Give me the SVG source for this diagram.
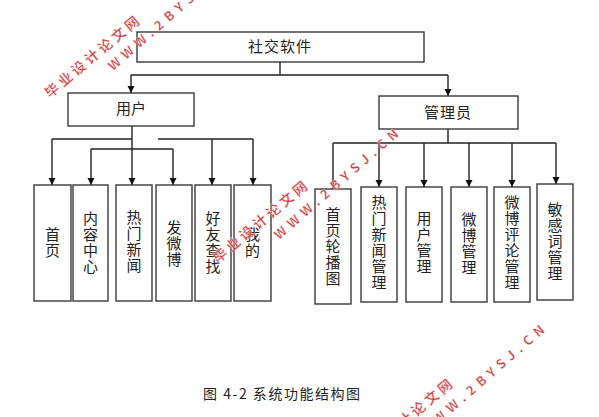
<svg xmlns="http://www.w3.org/2000/svg" width="599" height="417" viewBox="0 0 599 417">
<style>
.box{fill:#fff;stroke:#3a3a3a;stroke-width:1.4}
.lbl{font-family:"Noto Sans CJK SC","Liberation Sans",sans-serif;font-size:15px;fill:#222;text-anchor:middle}
.v{writing-mode:vertical-rl;letter-spacing:1px}
.con{fill:none;stroke:#222;stroke-width:1.4}
.wm{font-family:"Noto Sans CJK SC","Liberation Sans",sans-serif;font-weight:bold;fill:#d23c3c;text-anchor:middle;stroke:#fff;stroke-width:0.3}
</style>
<defs>
<marker id="arr" markerUnits="userSpaceOnUse" markerWidth="8" markerHeight="8" refX="7" refY="3.5" orient="auto">
<path d="M0,0 L7,3.5 L0,7 z" fill="#111"/>
</marker>
</defs>
<rect width="599" height="417" fill="#fff"/>

<g id="connectors">
<path class="con" d="M280,62 V75 M131,75 H448"/>
<path class="con" marker-end="url(#arr)" d="M131,75 V93"/>
<path class="con" marker-end="url(#arr)" d="M448,75 V96"/>
<path class="con" d="M52,139 H132 M158,139 H253 M91,149 H173"/>
<path class="con" marker-end="url(#arr)" d="M132,126 V185"/>
<path class="con" marker-end="url(#arr)" d="M52,139 V185"/>
<path class="con" marker-end="url(#arr)" d="M91,149 V185"/>
<path class="con" marker-end="url(#arr)" d="M173,149 V185"/>
<path class="con" marker-end="url(#arr)" d="M212,139 V185"/>
<path class="con" marker-end="url(#arr)" d="M253,139 V185"/>
<path class="con" d="M448,129 V143 M333,143 H556 M333,143 V189"/>
<path class="con" marker-end="url(#arr)" d="M379,143 V187"/>
<path class="con" marker-end="url(#arr)" d="M424,143 V187"/>
<path class="con" marker-end="url(#arr)" d="M469,143 V187"/>
<path class="con" marker-end="url(#arr)" d="M512,143 V187"/>
<path class="con" marker-end="url(#arr)" d="M556,143 V184"/>
</g>

<g id="root"><rect class="box" x="137" y="32" width="287" height="30"/><text class="lbl" x="280" y="52" letter-spacing="1">社交软件</text></g>
<g id="user"><rect class="box" x="68" y="93" width="126" height="33"/><text class="lbl" x="131" y="114">用户</text></g>
<g id="admin"><rect class="box" x="379" y="96" width="139" height="33"/><text class="lbl" x="448" y="118" letter-spacing="1">管理员</text></g>

<g id="u1"><rect class="box" x="34" y="185" width="37" height="116"/><text class="lbl v" x="52.5" y="243">首页</text></g>
<g id="u2"><rect class="box" x="73" y="185" width="35" height="116"/><text class="lbl v" x="90.5" y="243">内容中心</text></g>
<g id="u3"><rect class="box" x="116" y="185" width="36" height="116"/><text class="lbl v" x="134" y="242">热门新闻</text></g>
<g id="u4"><rect class="box" x="156" y="185" width="36" height="116"/><text class="lbl v" x="174" y="244">发微博</text></g>
<g id="u5"><rect class="box" x="195" y="185" width="36" height="116"/><text class="lbl v" x="213" y="243">好友查找</text></g>
<g id="u6"><rect class="box" x="234" y="185" width="37" height="116"/><text class="lbl v" x="252.5" y="243">我的</text></g>

<g id="a1"><rect class="box" x="315" y="189" width="36" height="115"/><text class="lbl v" x="333" y="247">首页轮播图</text></g>
<g id="a2"><rect class="box" x="361" y="187" width="36" height="115"/><text class="lbl v" x="379" y="243">热门新闻管理</text></g>
<g id="a3"><rect class="box" x="406" y="187" width="36" height="115"/><text class="lbl v" x="424" y="243">用户管理</text></g>
<g id="a4"><rect class="box" x="451" y="187" width="36" height="115"/><text class="lbl v" x="469" y="244">微博管理</text></g>
<g id="a5"><rect class="box" x="494" y="187" width="36" height="115"/><text class="lbl v" x="512" y="243">微博评论管理</text></g>
<g id="a6"><rect class="box" x="537" y="184" width="36" height="116"/><text class="lbl v" x="555" y="242">敏感词管理</text></g>

<text x="203" y="399" font-family="'Noto Sans CJK SC','Liberation Sans',sans-serif" font-size="14" fill="#222" textLength="157" lengthAdjust="spacing">图 4-2 系统功能结构图</text>

<g id="watermarks">
<text class="wm" font-size="14" transform="translate(92,57) rotate(-40)" y="5" textLength="118" lengthAdjust="spacing">毕业设计论文网</text>
<text class="wm" font-size="13" transform="translate(170,15) rotate(-41)" y="5" textLength="160" lengthAdjust="spacing">WWW.2BYSJ.CN</text>
<text class="wm" font-size="14" transform="translate(260,222) rotate(-40)" y="5" textLength="118" lengthAdjust="spacing">毕业设计论文网</text>
<text class="wm" font-size="13" transform="translate(336,184) rotate(-41)" y="5" textLength="160" lengthAdjust="spacing">WWW.2BYSJ.CN</text>
<text class="wm" font-size="14" transform="translate(405,420) rotate(-40)" y="5" textLength="118" lengthAdjust="spacing">毕业设计论文网</text>
<text class="wm" font-size="13" transform="translate(482,380) rotate(-41)" y="5" textLength="160" lengthAdjust="spacing">WWW.2BYSJ.CN</text>
</g>
</svg>
